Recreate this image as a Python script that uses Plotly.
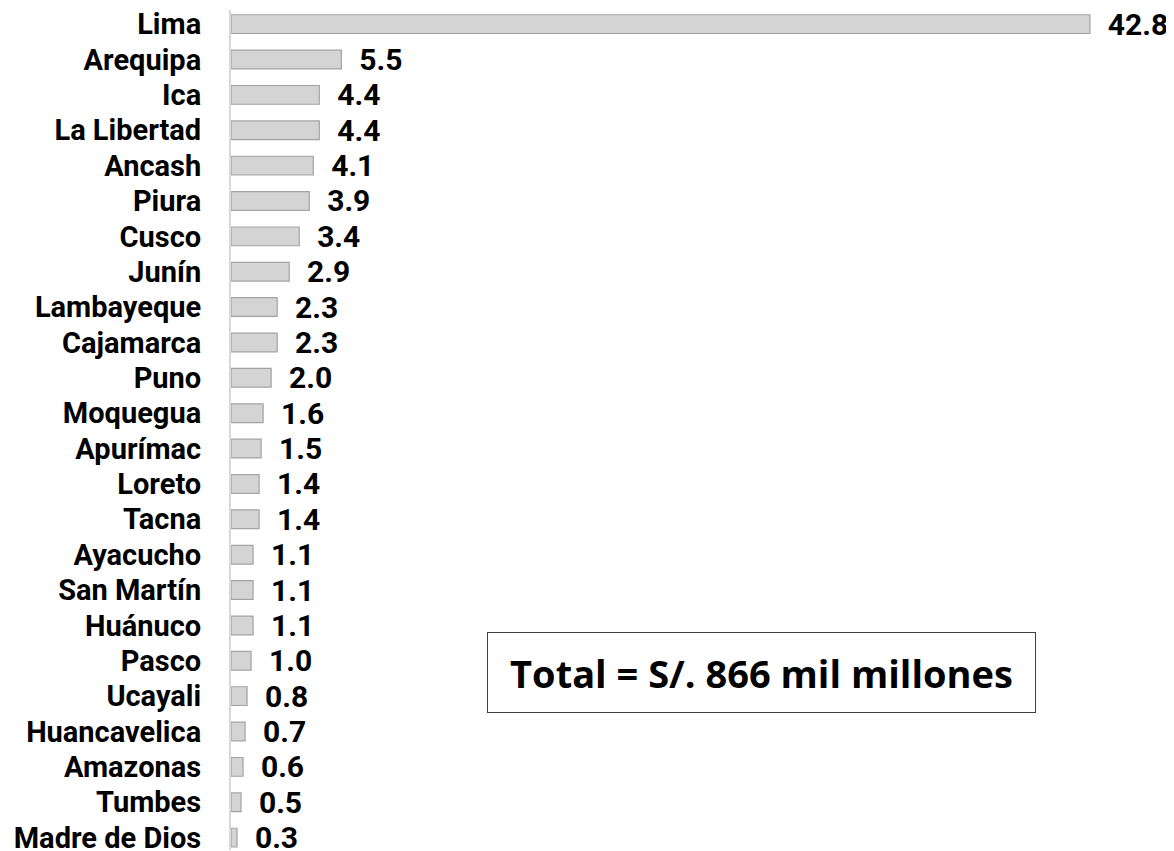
import plotly.graph_objects as go

# Regiones y valores (participación %)
regiones = ['Lima', 'Arequipa', 'Ica', 'La Libertad', 'Ancash', 'Piura', 'Cusco', 'Junín',
            'Lambayeque', 'Cajamarca', 'Puno', 'Moquegua', 'Apurímac', 'Loreto', 'Tacna',
            'Ayacucho', 'San Martín', 'Huánuco', 'Pasco', 'Ucayali', 'Huancavelica',
            'Amazonas', 'Tumbes', 'Madre de Dios']
valores = [42.8, 5.5, 4.4, 4.4, 4.1, 3.9, 3.4, 2.9, 2.3, 2.3, 2.0, 1.6, 1.5, 1.4, 1.4,
           1.1, 1.1, 1.1, 1.0, 0.8, 0.7, 0.6, 0.5, 0.3]
total_texto = 'Total = S/. 866 mil millones'

fig = go.Figure()
fig.add_trace(go.Bar(
    x=valores, y=regiones, orientation='h',
    width=0.53,
    marker=dict(color='#d4d4d4', line=dict(color='#a3a3a3', width=1.2)),
    text=['  ' + f'{v:.1f}' for v in valores],
    textposition='outside',
    constraintext='none',
    textfont=dict(family='Roboto', size=30, color='#000000', weight='bold'),
    cliponaxis=False,
))

# la página añade 8px de margen al cuerpo, así que la figura es algo menor
fig.update_layout(
    width=1166, height=843,
    margin=dict(l=223, r=10, t=2, b=1),
    plot_bgcolor='white', paper_bgcolor='white',
    showlegend=False,
    xaxis=dict(range=[0, 46.49], visible=False, automargin=False),
    yaxis=dict(
        type='category', categoryorder='array', categoryarray=regiones,
        range=[23.35, -0.4], automargin=False,
        showline=True, linecolor='#d9d9d9', linewidth=2,
        showgrid=False, ticks='', ticklabelstandoff=22,
        tickfont=dict(family='Roboto', size=29, color='#000000', weight='bold'),
    ),
    annotations=[dict(
        text=total_texto, xref='paper', yref='paper', x=0.569, y=0.2115,
        xanchor='center', yanchor='middle', showarrow=False,
        font=dict(family='Open Sans', size=38, color='#000000', weight='bold'),
        bordercolor='#404040', borderwidth=1, bgcolor='white',
        width=545, height=77,
    )],
)

fig.write_html('out.html')
